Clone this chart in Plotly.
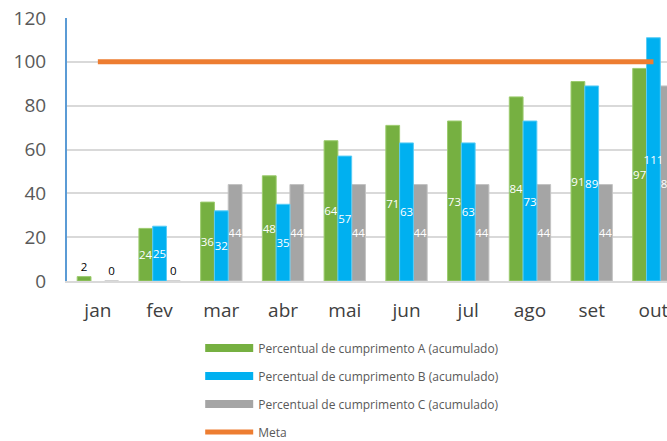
import plotly.graph_objects as go

months = ["jan", "fev", "mar", "abr", "mai", "jun", "jul", "ago", "set", "out"]
serie_a = [2, 24, 36, 48, 64, 71, 73, 84, 91, 97]
serie_b = [None, 25, 32, 35, 57, 63, 63, 73, 89, 111]
serie_c = [0, 0, 44, 44, 44, 44, 44, 44, 44, 89]
meta = [100] * 10

names = [
    "Percentual de cumprimento A (acumulado)",
    "Percentual de cumprimento B (acumulado)",
    "Percentual de cumprimento C (acumulado)",
]
colors = ["#76B041", "#00B0F0", "#A5A5A5"]
edge = ["#9CCB6E", "#5ACCF5", "#C3C3C3"]

FONT = "Open Sans"
BW = 0.2233
offsets = [-1.5 * BW, -0.5 * BW, 0.5 * BW]

series = [serie_a, serie_b, serie_c]

fig = go.Figure()
# draw gray first so the blue label can overflow on top of it
for i in [2, 0, 1]:
    vals = series[i]
    pos = ["outside" if (v is not None and v < 10) else "inside" for v in vals]
    txt = ["" if v is None else str(v) for v in vals]
    fig.add_trace(go.Bar(
        x=months, y=vals, name=names[i], showlegend=False,
        width=BW, offset=offsets[i],
        marker=dict(color=colors[i], line=dict(color=edge[i], width=1)),
        text=txt, textposition=pos, insidetextanchor="middle",
        textangle=0,
        insidetextfont=dict(color="white", size=11.5, family=FONT),
        outsidetextfont=dict(color="black", size=11.5, family=FONT),
        constraintext="none",
        cliponaxis=True,
        hoverinfo="skip",
    ))

fig.add_trace(go.Scatter(
    x=months, y=meta, name="Meta", mode="lines", showlegend=False,
    line=dict(color="#ED7D31", width=5),
    hoverinfo="skip",
))

# legend entries (wide rectangles like the reference)
for i, name in enumerate(names):
    fig.add_trace(go.Scatter(
        x=[None], y=[None], name=name, mode="lines", legendgroup=f"g{i}",
        line=dict(color=colors[i], width=8),
    ))
fig.add_trace(go.Scatter(
    x=[None], y=[None], name="Meta", mode="lines", legendgroup="g3",
    line=dict(color="#ED7D31", width=5),
))

fig.update_layout(
    width=667, height=441,
    margin=dict(l=67, r=0, t=18, b=160, autoexpand=False),
    paper_bgcolor="white", plot_bgcolor="white",
    barmode="overlay",
    font=dict(family=FONT, color="#595959"),
    showlegend=True,
    legend=dict(
        orientation="v", x=0.222, xanchor="left", y=-0.2, yanchor="top",
        font=dict(size=12, color="#595959", family=FONT),
        traceorder="grouped", tracegroupgap=9,
        itemwidth=48,
        bgcolor="rgba(0,0,0,0)",
    ),
    xaxis=dict(
        range=[-0.5, 9.22],
        showgrid=False, showline=True, linecolor="#D9D9D9", linewidth=2,
        tickfont=dict(size=19, color="#404040", family=FONT),
        ticks="", ticklabelstandoff=11,
        fixedrange=True,
    ),
    yaxis=dict(
        range=[0, 120], dtick=20, tick0=0,
        showgrid=True, gridcolor="#D9D9D9", gridwidth=2,
        showline=True, linecolor="#5B9BD5", linewidth=2,
        zeroline=False,
        tickfont=dict(size=19, color="#595959", family=FONT),
        ticks="", ticklabelstandoff=15,
        fixedrange=True,
    ),
)

fig.write_html(
    "out.html",
    config={"displayModeBar": False, "staticPlot": True},
    post_script="document.body.style.margin='0';document.body.style.overflow='hidden';",
)
